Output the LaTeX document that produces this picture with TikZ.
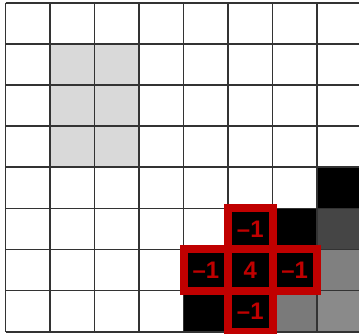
\documentclass[tikz,border=0pt]{standalone}
\usepackage{fontspec}
\setmainfont{Liberation Sans}
\usepackage{xcolor}
\usepackage{tikz}
\definecolor{kred}{RGB}{192,0,0}

\begin{document}
\begin{tikzpicture}[
  x=44.47bp, y=-41.125bp,
  gridline/.style={draw=black!80, line width=1.6bp},
  kcell/.style={draw=kred, fill=black, line width=8bp, text=kred,
                minimum width=44.47bp, minimum height=41.125bp, inner sep=0pt,
                font=\fontsize{24}{24}\selectfont\bfseries}
]
\useasboundingbox (-0.128,-0.066) rectangle (7.945,8.032);
\fill[white] (-0.128,-0.066) rectangle (7.945,8.032);

% ---- Image pixels ------------------------------------------------------
\foreach \c/\r in {1/1,2/1,1/2,2/2,1/3,2/3} \fill[black!15] (\c,\r) rectangle ++(1,1);
\foreach \c/\r in {7/4,6/5,4/6,5/6,6/6,4/7,5/7} \fill[black] (\c,\r) rectangle ++(1,1);
\fill[black!73] (7,5) rectangle ++(1,1);
\fill[black!50] (7,6) rectangle ++(1,1);
\fill[black!52] (6,7) rectangle ++(1,1);
\fill[black!46] (7,7) rectangle ++(1,1);

% ---- Grid --------------------------------------------------------------
\foreach \i in {0,...,8} \draw[gridline] (\i,0) -- (\i,8);
\foreach \j in {0,...,8} \draw[gridline] (0,\j) -- (8.2,\j);

% ---- Laplace kernel ----------------------------------------------------
\node[kcell] (kc) at (5.5,6.5) {4};
\node[kcell] (kn) at (5.5,5.5) {\textendash1};
\node[kcell] (kw) at (4.5,6.5) {\textendash1};
\node[kcell] (ke) at (6.5,6.5) {\textendash1};
\node[kcell] (ks) at (5.5,7.5) {\textendash1};
\end{tikzpicture}
\end{document}
